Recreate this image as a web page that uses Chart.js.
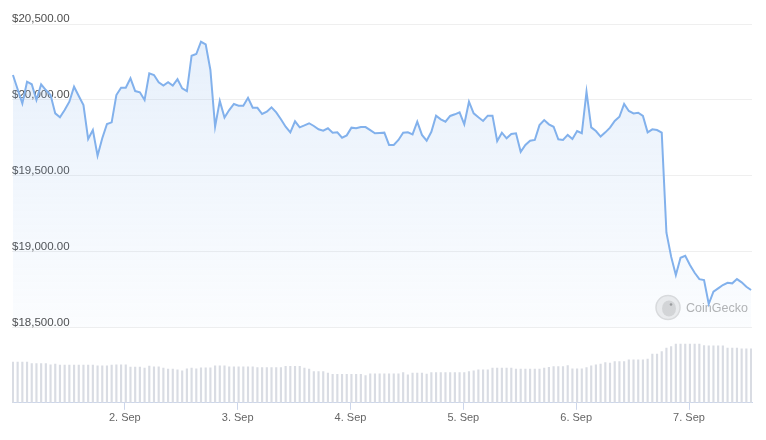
<!DOCTYPE html>
<html>
<head>
<meta charset="utf-8">
<script src="https://cdn.jsdelivr.net/npm/chart.js@4/dist/chart.umd.min.js"></script>
<style>
  html, body { margin: 0; padding: 0; background: #fff; }
  canvas { display: block; }
</style>
</head>
<body>
<canvas id="price-chart" width="766" height="440"></canvas>
<script>
// hourly BTC price (USD), 1 Sep 00:00 -> 7 Sep ~13:00
const prices = [
  20164, 20070, 19977, 20120, 20103, 19999, 20103, 20065, 20032, 19911,
  19885, 19933, 19988, 20087, 20026, 19966, 19742, 19801, 19632, 19747,
  19841, 19852, 20032, 20080, 20080, 20142, 20058, 20050, 19999, 20175,
  20164, 20116, 20094, 20116, 20094, 20136, 20076, 20058, 20291, 20302,
  20383, 20366, 20197, 19823, 19993, 19883, 19933, 19973, 19962, 19962,
  20014, 19948, 19948, 19907, 19922, 19951, 19918, 19872, 19823, 19786,
  19859, 19819, 19832, 19846, 19828, 19806, 19797, 19813, 19784, 19786,
  19751, 19766, 19817, 19813, 19821, 19821, 19801, 19780, 19782, 19784,
  19703, 19703, 19736, 19784, 19786, 19773, 19856, 19769, 19731, 19790,
  19896, 19872, 19856, 19894, 19905, 19918, 19839, 19988, 19911, 19885,
  19861, 19896, 19896, 19729, 19784, 19747, 19775, 19780, 19658, 19703,
  19731, 19736, 19834, 19867, 19839, 19823, 19740, 19736, 19769, 19742,
  19795, 19780, 20054, 19819, 19795, 19758, 19786, 19817, 19861, 19889,
  19973, 19927, 19911, 19915, 19894, 19786, 19806, 19801, 19784, 19125,
  18967, 18846, 18960, 18973, 18912, 18861, 18819, 18813, 18655, 18736,
  18758, 18780, 18795, 18791, 18819, 18798, 18769, 18747
];

// hourly volume (USD millions)
const volumes = [
  1221, 1221, 1221, 1221, 1179, 1179, 1179, 1179, 1140, 1161,
  1131, 1131, 1131, 1131, 1131, 1131, 1131, 1131, 1110, 1110,
  1110, 1131, 1140, 1140, 1140, 1071, 1071, 1071, 1041, 1101,
  1080, 1080, 1041, 1011, 1011, 990, 960, 1020, 1041, 1020,
  1050, 1050, 1050, 1110, 1110, 1110, 1080, 1080, 1080, 1080,
  1080, 1080, 1059, 1059, 1059, 1059, 1059, 1059, 1095, 1095,
  1095, 1095, 1041, 1011, 939, 939, 939, 891, 855, 855,
  855, 855, 855, 855, 855, 819, 870, 870, 870, 870,
  870, 870, 870, 909, 840, 891, 891, 891, 861, 909,
  909, 909, 909, 909, 909, 909, 909, 939, 960, 990,
  990, 990, 1041, 1041, 1041, 1041, 1041, 1011, 1011, 1011,
  1011, 1011, 1011, 1041, 1065, 1089, 1089, 1089, 1119, 1020,
  1020, 1020, 1059, 1110, 1140, 1161, 1209, 1191, 1239, 1239,
  1239, 1290, 1290, 1290, 1290, 1311, 1461, 1461, 1539, 1641,
  1689, 1761, 1761, 1761, 1761, 1761, 1761, 1719, 1710, 1710,
  1710, 1710, 1641, 1641, 1641, 1620, 1620, 1620
];

const priceTicks = [18500, 19000, 19500, 20000, 20500];
const dayTicks = [24, 48, 72, 96, 120, 144];   // hours since 1 Sep 00:00
const dayLabels = ['2. Sep', '3. Sep', '4. Sep', '5. Sep', '6. Sep', '7. Sep'];
const firstHour = 0.2;

const lineColor = '#82b1ec';

const priceData = prices.map((p, i) => ({ x: firstHour + i, y: p }));
const volumeData = volumes.map((v, i) => ({ x: firstHour + i, y: v }));

const watermark = {
  id: 'watermark',
  beforeDatasetsDraw(chart) {
    const ctx = chart.ctx;
    const cx = chart.chartArea.right - 84;
    const cy = chart.scales.y.getPixelForValue(18500) - 20;
    ctx.save();
    ctx.beginPath();
    ctx.arc(cx, cy, 12, 0, Math.PI * 2);
    ctx.fillStyle = '#ededed';
    ctx.fill();
    ctx.lineWidth = 1.5;
    ctx.strokeStyle = '#dcdcdc';
    ctx.stroke();
    // head
    ctx.beginPath();
    ctx.ellipse(cx + 1, cy + 1, 7, 8, 0, 0, Math.PI * 2);
    ctx.fillStyle = '#d6d6d6';
    ctx.fill();
    ctx.beginPath();
    ctx.arc(cx + 3, cy - 3, 1.3, 0, Math.PI * 2);
    ctx.fillStyle = '#9a9a9a';
    ctx.fill();
    ctx.font = '12.5px "Liberation Sans", Arial, sans-serif';
    ctx.fillStyle = '#b3b3b3';
    ctx.textBaseline = 'middle';
    ctx.textAlign = 'left';
    ctx.fillText('CoinGecko', cx + 18, cy + 1);
    ctx.restore();
  }
};

const config = {
  data: {
    datasets: [{
      type: 'line',
      data: priceData,
      yAxisID: 'y',
      borderColor: lineColor,
      borderWidth: 2,
      pointRadius: 0,
      tension: 0,
      fill: { value: 18500 },
      backgroundColor: (c) => {
        const chart = c.chart;
        if (!chart.chartArea) return 'rgba(130,177,236,0.1)';
        const y = chart.scales.y;
        const g = chart.ctx.createLinearGradient(0, y.getPixelForValue(20500), 0, y.getPixelForValue(18500));
        g.addColorStop(0, 'rgba(130,177,236,0.2)');
        g.addColorStop(1, 'rgba(130,177,236,0.03)');
        return g;
      },
      order: 1
    }, {
      type: 'bar',
      data: volumeData,
      yAxisID: 'vol',
      backgroundColor: '#d9dce3',
      barThickness: 1.5,
      order: 2
    }]
  },
  options: {
    responsive: false,
    animation: false,
    layout: { padding: { left: 12, right: 14, top: 24, bottom: 13 } },
    plugins: {
      legend: { display: false },
      tooltip: { enabled: false }
    },
    scales: {
      x: {
        type: 'linear',
        min: 0,
        max: 157.4,
        offset: false,
        afterBuildTicks: (axis) => { axis.ticks = dayTicks.map(v => ({ value: v })); },
        grid: {
          offset: false,
          drawOnChartArea: false,
          drawTicks: true,
          tickLength: 7,
          color: '#ccd6eb'
        },
        border: { display: true, color: '#ccd6eb' },
        ticks: {
          padding: 2,
          maxRotation: 0,
          autoSkip: false,
          color: '#666666',
          font: { family: '"Liberation Sans", Arial, sans-serif', size: 11 },
          callback: (v) => dayLabels[dayTicks.indexOf(v)]
        }
      },
      y: {
        position: 'left',
        min: 18004,
        max: 20500,
        afterBuildTicks: (axis) => { axis.ticks = priceTicks.map(v => ({ value: v })); },
        grid: { color: '#efefef', drawTicks: false },
        border: { display: false },
        ticks: {
          mirror: true,
          padding: 0,
          labelOffset: -5,
          color: '#4d4d4d',
          font: { family: '"Liberation Sans", Arial, sans-serif', size: 11.5 },
          callback: (v) => '$' + Number(v).toLocaleString('en-US', { minimumFractionDigits: 2, maximumFractionDigits: 2 })
        }
      },
      vol: {
        display: false,
        min: 0,
        max: 11370
      }
    }
  },
  plugins: [watermark]
};

new Chart(document.getElementById('price-chart'), config);
</script>
</body>
</html>
